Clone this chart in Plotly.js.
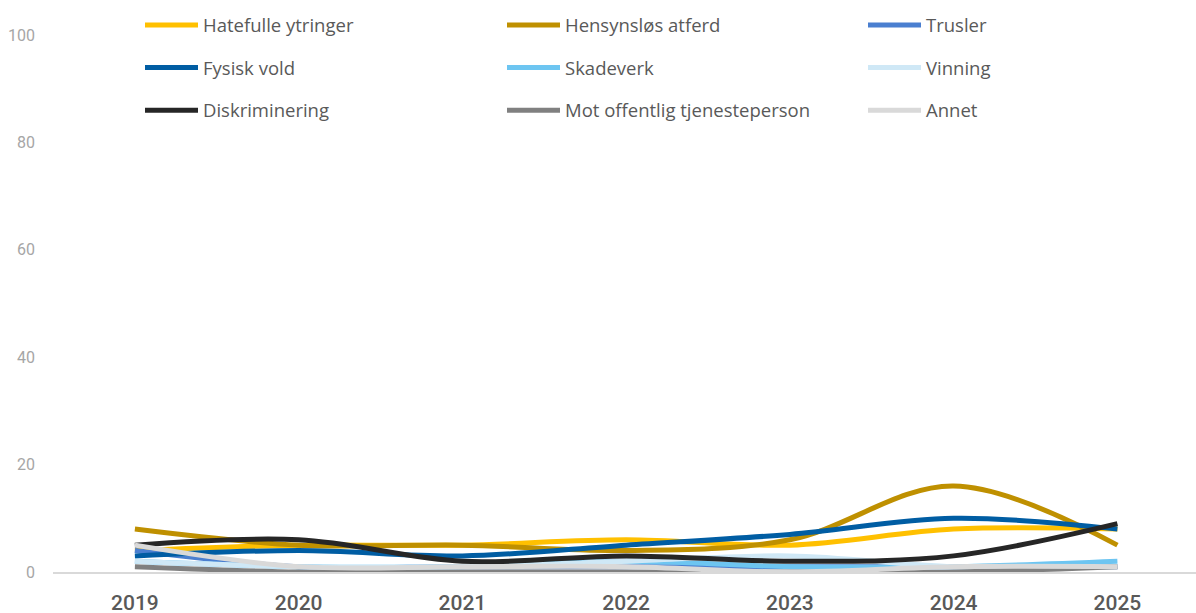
<!DOCTYPE html>
<html>
<head>
<meta charset="utf-8">
<script src="https://cdn.plot.ly/plotly-3.0.1.min.js"></script>
<style>html,body{margin:0;padding:0;background:#fff;}#chart{width:1196px;height:613px;}</style>
</head>
<body>
<div id="chart"></div>
<script>
const years = [2019, 2020, 2021, 2022, 2023, 2024, 2025];
const yTicks = [0, 20, 40, 60, 80, 100];

const hatefulle = [4, 5, 5, 6, 5, 8, 8];
const hensynslos = [8, 5, 5, 4, 6, 16, 5];
const trusler = [4, 1, 1, 1, 1, 1, 1];
const fysiskVold = [3, 4, 3, 5, 7, 10, 8];
const skadeverk = [2, 1, 1, 2, 1, 1, 2];
const vinning = [2, 1, 1, 2, 3, 1, 1];
const diskriminering = [5, 6, 2, 3, 2, 3, 9];
const motOffentlig = [1, 0, 0, 0, 0, 0, 1];
const annet = [5, 1, 1, 1, 0, 1, 1];

const seriesNames = ["Hatefulle ytringer", "Hensynsløs atferd", "Trusler", "Fysisk vold", "Skadeverk", "Vinning", "Diskriminering", "Mot offentlig tjenesteperson", "Annet"];
const seriesValues = [hatefulle, hensynslos, trusler, fysiskVold, skadeverk, vinning, diskriminering, motOffentlig, annet];
const seriesColors = ["#FFC000", "#BF9000", "#4A7FD0", "#005DA3", "#6DC5F1", "#CFE8F6", "#262626", "#808080", "#D9D9D9"];
const legendIds = ["legend", "legend2", "legend3"];

const traces = seriesNames.map((name, i) => ({
  type: "scatter",
  mode: "lines",
  name: name,
  x: years,
  y: seriesValues[i],
  line: {color: seriesColors[i], width: 5, shape: "spline", smoothing: 1},
  legend: legendIds[i % 3],
  legendgroup: "g" + i,
  hoverinfo: "skip"
}));

const plotH = 572;
const plotL = 53, plotW = 1143;
const legendBase = {
  orientation: "v",
  bgcolor: "rgba(0,0,0,0)",
  font: {family: "'Open Sans', sans-serif", size: 18.5, color: "#595959"},
  tracegroupgap: 15.5,
  itemwidth: 53,
  xanchor: "left",
  yanchor: "top",
  y: 1 - 6.5 / plotH
};

const layout = {
  width: 1196, height: 613,
  margin: {l: plotL, r: 0, t: 0, b: 41},
  paper_bgcolor: "#ffffff",
  plot_bgcolor: "#ffffff",
  showlegend: true,
  legend: Object.assign({}, legendBase, {x: (140 - plotL) / plotW}),
  legend2: Object.assign({}, legendBase, {x: (502 - plotL) / plotW}),
  legend3: Object.assign({}, legendBase, {x: (863 - plotL) / plotW}),
  xaxis: {
    range: [2018.5, 2025.48],
    tickvals: years,
    ticktext: years.map(String),
    showgrid: false,
    zeroline: false,
    showline: true,
    linecolor: "#D9D9D9",
    linewidth: 1.5,
    ticks: "",
    tickangle: 0,
    ticklabelstandoff: 11,
    tickfont: {family: "Roboto, sans-serif", size: 21, weight: 500, color: "#595959"}
  },
  yaxis: {
    range: [0, 100 * 572 / 537],
    tickvals: yTicks,
    ticktext: yTicks.map(String),
    showgrid: false,
    zeroline: false,
    showline: false,
    ticks: "",
    ticklabelstandoff: 17,
    tickfont: {family: "Roboto, sans-serif", size: 16, color: "#A6A6A6"}
  }
};

Plotly.newPlot("chart", traces, layout, {displayModeBar: false, staticPlot: true});
</script>
</body>
</html>
